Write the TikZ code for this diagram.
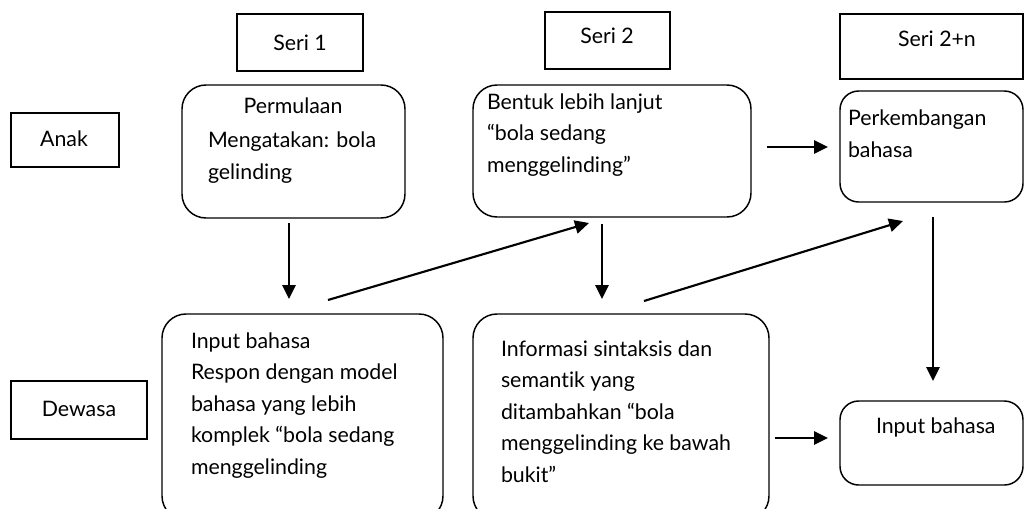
\documentclass[tikz,border=0pt]{standalone}
\usepackage{fontspec}
\setmainfont{Lato}[Ligatures={NoCommon,TeX}]
\usetikzlibrary{arrows.meta,calc}
\begin{document}
\begin{tikzpicture}[x=0.75pt,y=-0.75pt,
  font=\fontsize{16}{23.6}\selectfont,
  sq/.style={draw, line width=1.1pt, inner sep=0pt, outer sep=0pt},
  rbox/.style={sq, rounded corners=18pt},
  rsmall/.style={sq, rounded corners=14pt},
  sz/.style 2 args={minimum width=#1*0.75pt, minimum height=#2*0.75pt},
  txt/.style={inner sep=0pt, outer sep=0pt, align=left, anchor=base west},
  ctxt/.style={inner sep=0pt, outer sep=0pt, anchor=base},
  arr/.style={line width=1.6pt, -{Triangle[length=10.5pt,width=10pt]}},
]
\useasboundingbox (0,0) rectangle (1026,508);
\clip (0,0) rectangle (1026,508);
\fill[white] (0,0) rectangle (1026,508);

% header boxes
\node[sq, sz={126}{57}] (s1) at (300,42.5) {};
\node[ctxt] (s1t) at (300,50) {Seri 1};
\node[sq, sz={125}{57}] (s2) at (607.5,40.5) {};
\node[ctxt] (s2t) at (607,43) {Seri 2};
\node[sq, sz={183}{65}] (s3) at (931.5,46.5) {};
\node[ctxt] (s3t) at (937,46) {Seri 2+n};

% row labels
\node[sq, sz={108}{54}] (anak) at (65,140) {};
\node[ctxt] (anakt) at (64,146) {Anak};
\node[sq, sz={136}{58}] (dew) at (79,410) {};
\node[ctxt] (dewt) at (79,416) {Dewasa};

% rounded boxes
\node[rbox, sz={223}{133}] (p1) at (293.5,151.5) {};
\node[rbox, sz={278}{132}] (p2) at (612,151) {};
\node[rsmall, sz={183}{111}] (p3) at (931.5,146.5) {};
\node[rbox, sz={281}{206}] (i1) at (302.5,417) {};
\node[rbox, sz={296}{206}] (i2) at (621,417) {};
\node[rsmall, sz={183}{84}] (i3) at (931.5,443) {};

% texts (base anchor = baseline of last line)
\node[ctxt] (p1a) at (293,113) {Permulaan};
\node[txt] (p1b) at (208,179) {Mengatakan: bola\\gelinding};
\node[txt] (p2t) at (487,172) {Bentuk lebih lanjut\\“bola sedang\\menggelinding”};
\node[txt] (p3t) at (848,157) {Perkembangan\\bahasa};
\node[txt] (i1t) at (191,474) {Input bahasa\\Respon dengan model\\bahasa yang lebih\\komplek “bola sedang\\menggelinding};
\node[txt] (i2t) at (501,482) {Informasi sintaksis dan\\semantik yang\\ditambahkan “bola\\menggelinding ke bawah\\bukit”};
\node[txt] (i3t) at (876,433) {Input bahasa};

% arrows
\draw[arr] ($(p1.south)+(-4.5,5)$) -- ($(i1.north)+(-13.5,-15)$);
\draw[arr] ($(i1.north)+(25.5,-14)$) -- ($(p2.south)+(-23,6)$);
\draw[arr] ($(p2.south)+(-10,7)$) -- ($(i2.north)+(-19,-15)$);
\draw[arr] ($(i2.north)+(23,-13)$) -- ($(p3.south)+(-28.5,19)$);
\draw[arr] ($(p2.east)+(16,-4)$) -- ($(p3.west)+(-12,0.5)$);
\draw[arr] ($(p3.south)+(1.5,15)$) -- ($(i3.north)+(1.5,-20)$);
\draw[arr] ($(i2.east)+(6,21)$) -- ($(i3.west)+(-12,-5)$);
\end{tikzpicture}
\end{document}
